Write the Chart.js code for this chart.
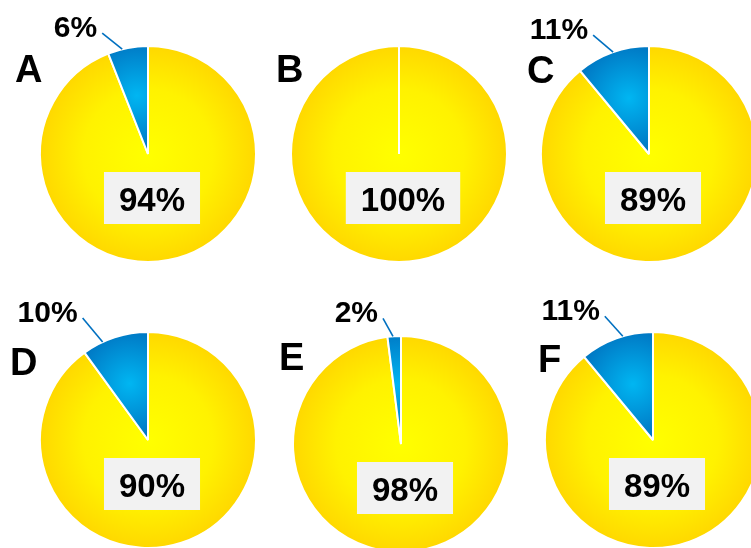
<!DOCTYPE html>
<html>
<head>
<meta charset="utf-8">
<script src="https://cdn.jsdelivr.net/npm/chart.js@4"></script>
<style>
  html, body { margin: 0; padding: 0; background: #fff; overflow: hidden; }
  #wrap { position: relative; width: 751px; height: 548px; }
  #wrap canvas { position: absolute; left: 0; top: 0; }
</style>
</head>
<body>
<div id="wrap"></div>
<script>
const panels = ["A", "B", "C", "D", "E", "F"];
const yellowShare = [94, 100, 89, 90, 98, 89];
const blueShare = [6, 0, 11, 10, 2, 11];

// where each pie sits on the page, plus its letter and leader line
const layout = [
  { cx: 148, cy: 154, letter: [15, 82],  leadAt: 0.64, lead: [-20, -16] },
  { cx: 399, cy: 154, letter: [276, 82], leadAt: 0.5,  lead: [-20, -16] },
  { cx: 649, cy: 154, letter: [527, 83], leadAt: 0.49, lead: [-20, -17] },
  { cx: 148, cy: 440, letter: [10, 375], leadAt: 0.69, lead: [-20, -24] },
  { cx: 401, cy: 444, letter: [279, 370], leadAt: 0.59, lead: [-10, -18] },
  { cx: 653, cy: 440, letter: [538, 372], leadAt: 0.41, lead: [-18, -20] },
];

const W = 751, H = 548, R = 108;
const FONT = '"Liberation Sans", Arial, sans-serif';

function sliceFill(c) {
  const chart = c.chart;
  const area = chart.chartArea;
  if (!area) return c.dataIndex === 0 ? "#ffe600" : "#0090d8";
  const x = (area.left + area.right) / 2;
  const y = (area.top + area.bottom) / 2;
  const g = chart.ctx;
  if (c.dataIndex === 0) {
    const gr = g.createRadialGradient(x, y, 0, x, y, R);
    gr.addColorStop(0, "#ffff00");
    gr.addColorStop(0.6, "#fff200");
    gr.addColorStop(1, "#ffd800");
    return gr;
  }
  const vals = c.dataset.data;
  const tot = vals[0] + vals[1];
  const mid = -Math.PI / 2 + 2 * Math.PI * (vals[0] + vals[1] / 2) / tot;
  const bx = x + Math.cos(mid) * R * 0.55;
  const by = y + Math.sin(mid) * R * 0.55;
  const gr = g.createRadialGradient(bx, by, 0, bx, by, R * 0.62);
  gr.addColorStop(0, "#00b6f2");
  gr.addColorStop(1, "#0068b8");
  return gr;
}

const panelLabels = {
  id: "panelLabels",
  afterDatasetsDraw(chart, args, opts) {
    const i = opts.index;
    const L = layout[i];
    const meta = chart.getDatasetMeta(0);
    const big = meta.data[0];
    const small = meta.data[1];
    const ctx = chart.ctx;
    ctx.save();

    // panel letter
    ctx.fillStyle = "#000";
    ctx.textBaseline = "alphabetic";
    ctx.textAlign = "left";
    ctx.font = "bold 38px " + FONT;
    ctx.fillText(panels[i], L.letter[0], L.letter[1]);

    // big share in a grey box
    ctx.font = "bold 33px " + FONT;
    const txt = yellowShare[i] + "%";
    const tw = ctx.measureText(txt).width;
    const bw = tw + 30, bh = 52;
    const bx = big.x + 4, by = big.y + 44;
    ctx.fillStyle = "#f2f2f2";
    ctx.fillRect(bx - bw / 2, by - bh / 2, bw, bh);
    ctx.fillStyle = "#000";
    ctx.textAlign = "center";
    ctx.fillText(txt, bx, by + 13);

    // small share with leader line
    if (blueShare[i] > 0) {
      const a = small.endAngle - (small.endAngle - small.startAngle) * L.leadAt;
      const r = small.outerRadius;
      const ex = small.x + Math.cos(a) * r;
      const ey = small.y + Math.sin(a) * r;
      const sx = ex + L.lead[0], sy = ey + L.lead[1];
      ctx.strokeStyle = "#0070c0";
      ctx.lineWidth = 1.6;
      ctx.beginPath();
      ctx.moveTo(sx, sy);
      ctx.lineTo(ex, ey);
      ctx.stroke();
      ctx.font = "bold 30px " + FONT;
      ctx.textAlign = "right";
      ctx.fillStyle = "#000";
      ctx.fillText(blueShare[i] + "%", sx - 5, sy + 4);
    }
    ctx.restore();
  },
};

const wrap = document.getElementById("wrap");
panels.forEach((p, i) => {
  const L = layout[i];
  const cv = document.createElement("canvas");
  cv.width = W;
  cv.height = H;
  cv.style.width = W + "px";
  cv.style.height = H + "px";
  wrap.appendChild(cv);

  new Chart(cv, {
    type: "pie",
    data: {
      labels: ["Yellow", "Blue"],
      datasets: [
        {
          data: [yellowShare[i], blueShare[i]],
          backgroundColor: sliceFill,
          borderColor: "#ffffff",
          borderWidth: 2,
          clip: false,
        },
      ],
    },
    options: {
      responsive: false,
      animation: false,
      events: [],
      radius: R,
      layout: {
        padding: {
          left: L.cx - 10,
          right: W - L.cx - 10,
          top: L.cy - 10,
          bottom: H - L.cy - 10,
        },
      },
      plugins: {
        legend: { display: false },
        tooltip: { enabled: false },
        panelLabels: { index: i },
      },
    },
    plugins: [panelLabels],
  });
});
</script>
</body>
</html>
